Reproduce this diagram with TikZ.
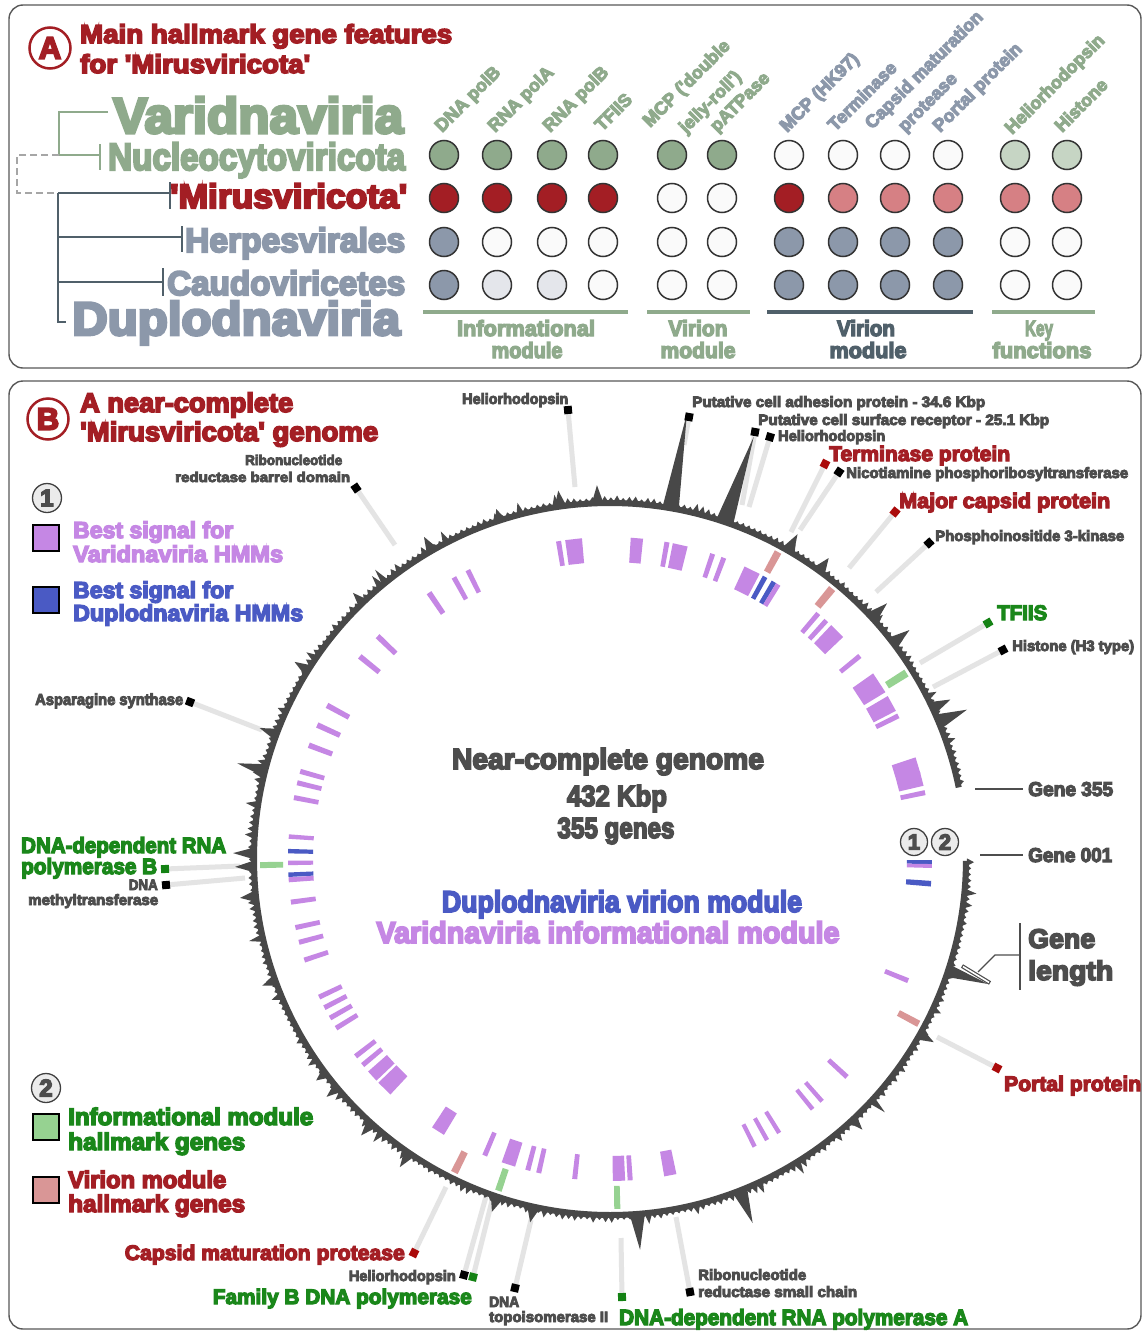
\documentclass[tikz,border=0pt]{standalone}
\usepackage{fontspec}
\setmainfont{Liberation Sans}[BoldFeatures={FakeBold=6}]
\usepackage{graphicx}
\pgfdeclarelayer{bg}
\pgfsetlayers{bg,main}
\newsavebox\ftbox
\newcommand\ft[3]{\sbox\ftbox{\fontsize{#1pt}{#1pt}\selectfont\bfseries #3}\resizebox{#2pt}{\height}{\usebox\ftbox}}
\newcommand\fn[2]{{\fontsize{#1pt}{#1pt}\selectfont\bfseries #2}}
\newcommand\q{\textquotesingle}
\newcommand\gb[5]{\fill[#5] ({#1-#2/2}:#3) -- ({#1+#2/2}:#3) -- ({#1+#2/2}:#4) -- ({#1-#2/2}:#4) -- cycle;}
\definecolor{dred}{RGB}{163,30,36}
\definecolor{sage}{RGB}{143,170,140}
\definecolor{sagel}{RGB}{198,213,196}
\definecolor{slate}{RGB}{140,152,170}
\definecolor{slated}{RGB}{80,96,106}
\definecolor{rose}{RGB}{214,128,132}
\definecolor{wc}{RGB}{250,250,250}
\definecolor{lgc}{RGB}{228,230,235}
\definecolor{tgray}{RGB}{77,77,77}
\definecolor{purp}{RGB}{197,135,228}
\definecolor{blu}{RGB}{74,90,196}
\definecolor{grn}{RGB}{26,135,26}
\definecolor{lgrn}{RGB}{150,210,145}
\definecolor{pnk}{RGB}{217,150,150}
\definecolor{band}{RGB}{72,72,72}
\definecolor{lead}{RGB}{228,228,228}
\definecolor{mred}{RGB}{170,10,10}
\definecolor{mgrn}{RGB}{20,130,20}
\begin{document}
\begin{tikzpicture}[x=1pt,y=-1pt,
  lbl/.style={inner sep=0pt, anchor=base west},
  lble/.style={inner sep=0pt, anchor=base east},
  lblc/.style={inner sep=0pt, anchor=base},
  dotc/.style={circle, draw=black!80, line width=1.5pt, minimum size=29pt, inner sep=0pt},
  leader/.style={draw=lead, line width=5pt},
  mk/.style={rectangle, minimum size=8pt, inner sep=0pt, fill=#1},
  badge/.style={circle, draw=black!75, fill=black!8, line width=1.3pt, minimum size=29pt, inner sep=0pt, text=tgray},
  panel/.style={draw=black!65, line width=1.4pt, rounded corners=14pt},
  letterbadge/.style={circle, draw=dred, fill=white, line width=2.5pt, minimum size=41pt, inner sep=0pt, text=dred},
  sqr/.style={rectangle, draw=black, line width=2.2pt, minimum size=26pt, inner sep=0pt, fill=#1},
  treeV/.style={draw=sage, line width=2.5pt},
  treeD/.style={draw=slated, line width=2.5pt},
  treeX/.style={draw=black!35, line width=2.5pt, dash pattern=on 7pt off 4pt},
  uline/.style={draw=#1, line width=4pt},
  thinl/.style={draw=tgray, line width=1.3pt},
  rot/.style={inner sep=0pt, anchor=base west, rotate=45, text=#1},
]
\useasboundingbox[fill=white] (0,0) rectangle (1143,1333);

% ---------- frames
\draw[panel] (9,5) rectangle (1141,368);
\draw[panel] (9,381) rectangle (1141,1329);

% ================= PANEL A =================
\node[letterbadge] (bA) at (50,48) {\fn{31}{A}};
\node[lbl, text=dred] (tA1) at (80,43) {\ft{26}{372}{Main hallmark gene features}};
\node[lbl, text=dred] (tA2) at (80,73) {\ft{26}{230}{for \q Mirusviricota\q}};

% tree
\draw[treeV] (108,112) -- (59,112) -- (59,155) -- (100,155);
\draw[treeV] (100,144) -- (100,170);
\draw[treeX] (59,155) -- (17,155) -- (17,193) -- (58,193);
\draw[treeD] (58,193) -- (170,193);
\draw[treeD] (170,182) -- (170,209);
\draw[treeD] (58,193) -- (58,322) -- (66,322);
\draw[treeD] (58,237) -- (182,237);
\draw[treeD] (182,226) -- (182,252);
\draw[treeD] (58,282) -- (163,282);
\draw[treeD] (163,268) -- (163,296);

\node[lbl, text=sage] (tVar) at (113,133) {\ft{50}{290}{Varidnaviria}};
\node[lbl, text=sage] (tNuc) at (108,170) {\ft{38}{297}{Nucleocytoviricota}};
\node[lbl, text=dred] (tMir) at (170,208) {\ft{34}{237}{\q Mirusviricota\q}};
\node[lbl, text=slate] (tHer) at (185,252) {\ft{34}{220}{Herpesvirales}};
\node[lbl, text=slate] (tCau) at (167,295) {\ft{34}{238}{Caudoviricetes}};
\node[lbl, text=slate] (tDup) at (72,335) {\ft{47}{328}{Duplodnaviria}};

% rotated column labels
\node[rot=sage] (c1) at (442,133) {\fn{18}{DNA polB}};
\node[rot=sage] (c2) at (495,133) {\fn{18}{RNA polA}};
\node[rot=sage] (c3) at (550,133) {\fn{18}{RNA polB}};
\node[rot=sage] (c4) at (602,132) {\fn{18}{TFIIS}};
\node[rot=sage] (c5a) at (650,128) {\fn{18}{MCP (\q double}};
\node[rot=sage] (c5b) at (686,134) {\fn{18}{jelly-roll\q)}};
\node[rot=sage] (c6) at (717,133) {\fn{18}{pATPase}};
\node[rot=slate] (c7) at (787,133) {\fn{18}{MCP (HK97)}};
\node[rot=slate] (c8) at (835,132) {\fn{18}{Terminase}};
\node[rot=slate] (c9a) at (872,130) {\fn{18}{Capsid maturation}};
\node[rot=slate] (c9b) at (905,133) {\fn{18}{protease}};
\node[rot=slate] (c10) at (940,133) {\fn{18}{Portal protein}};
\node[rot=sage] (c11) at (1012,135) {\fn{18}{Heliorhodopsin}};
\node[rot=sage] (c12) at (1062,133) {\fn{18}{Histone}};

% dots
\foreach \x/\f [count=\c] in {444/sage,497/sage,552/sage,603/sage,672/sage,722/sage,789/wc,843/wc,895/wc,948/wc,1015/sagel,1067/sagel}
  \node[dotc, fill=\f] (ra\c) at (\x,155) {};
\foreach \x/\f [count=\c] in {444/dred,497/dred,552/dred,603/dred,672/wc,722/wc,789/dred,843/rose,895/rose,948/rose,1015/rose,1067/rose}
  \node[dotc, fill=\f] (rb\c) at (\x,198) {};
\foreach \x/\f [count=\c] in {444/slate,497/wc,552/wc,603/wc,672/wc,722/wc,789/slate,843/slate,895/slate,948/slate,1015/wc,1067/wc}
  \node[dotc, fill=\f] (rc\c) at (\x,242) {};
\foreach \x/\f [count=\c] in {444/slate,497/lgc,552/lgc,603/wc,672/wc,722/wc,789/slate,843/slate,895/slate,948/slate,1015/wc,1067/wc}
  \node[dotc, fill=\f] (rd\c) at (\x,285) {};

% module underlines and labels
\draw[uline=sage] (423,312) -- (628,312);
\draw[uline=sage] (647,312) -- (750,312);
\draw[uline=slated] (767,312) -- (973,312);
\draw[uline=sage] (992,312) -- (1095,312);
\node[lblc, text=sage] (m1a) at (526,336) {\ft{22}{138}{Informational}};
\node[lblc, text=sage] (m1b) at (527,358) {\ft{22}{71}{module}};
\node[lblc, text=sage] (m2a) at (698,336) {\ft{22}{59}{Virion}};
\node[lblc, text=sage] (m2b) at (698,358) {\ft{22}{75}{module}};
\node[lblc, text=slated] (m3a) at (866,336) {\ft{22}{58}{Virion}};
\node[lblc, text=slated] (m3b) at (868,358) {\ft{22}{77}{module}};
\node[lblc, text=sage] (m4a) at (1039,336) {\ft{22}{28}{Key}};
\node[lblc, text=sage] (m4b) at (1042,358) {\ft{22}{99}{functions}};

% ================= PANEL B =================
\node[letterbadge] (bB) at (48,419) {\fn{31}{B}};
\node[lbl, text=dred] (tB1) at (80,412) {\ft{27}{213}{A near-complete}};
\node[lbl, text=dred] (tB2) at (80,441) {\ft{27}{298}{\q Mirusviricota\q{} genome}};

% legend 1
\node[badge] (bd1) at (47,498) {\fn{24}{1}};
\node[sqr=purp] (sqP) at (46,538) {};
\node[sqr=blu] (sqB) at (46,600) {};
\begin{pgfonlayer}{bg}
\draw[black!70, line width=1.3pt] (bd1) -- (sqB);
\end{pgfonlayer}
\node[lbl, text=purp] (l1a) at (73,538) {\ft{23}{160}{Best signal for}};
\node[lbl, text=purp] (l1b) at (73,562) {\ft{23}{210}{Varidnaviria HMMs}};
\node[lbl, text=blu] (l1c) at (73,598) {\ft{23}{160}{Best signal for}};
\node[lbl, text=blu] (l1d) at (73,621) {\ft{23}{230}{Duplodnaviria HMMs}};

% legend 2
\node[badge] (bd2) at (46,1088) {\fn{24}{2}};
\node[sqr=lgrn] (sqG) at (46,1127) {};
\node[sqr=pnk] (sqR) at (46,1190) {};
\begin{pgfonlayer}{bg}
\draw[black!70, line width=1.3pt] (bd2) -- (sqR);
\end{pgfonlayer}
\node[lbl, text=grn] (l2a) at (68,1125) {\ft{24}{245}{Informational module}};
\node[lbl, text=grn] (l2b) at (68,1150) {\ft{24}{177}{hallmark genes}};
\node[lbl, text=dred] (l2c) at (68,1188) {\ft{24}{158}{Virion module}};
\node[lbl, text=dred] (l2d) at (68,1212) {\ft{24}{177}{hallmark genes}};

% leader coordinates
\coordinate (E1) at (575,487);   \coordinate (M1) at (568,410);
\coordinate (E2) at (684,445);   \coordinate (M2) at (689,417);
\coordinate (E3) at (742,505);   \coordinate (M3) at (755,432);
\coordinate (E4) at (749,507);   \coordinate (M4) at (770,437);
\coordinate (E5) at (791,532);   \coordinate (M5) at (825,464);
\coordinate (E6) at (800,530);   \coordinate (M6) at (839,472);
\coordinate (E7) at (849,568);   \coordinate (M7) at (895,512);
\coordinate (E8) at (876,592);   \coordinate (M8) at (929,543);
\coordinate (E9) at (920,663);   \coordinate (M9) at (988,623);
\coordinate (E10) at (933,687);  \coordinate (M10) at (1003,650);
\coordinate (E11) at (937,1037); \coordinate (M11) at (997,1068);
\coordinate (E12) at (446,1187); \coordinate (M12) at (414,1253);
\coordinate (E13) at (487,1193); \coordinate (M13) at (464,1275);
\coordinate (E14) at (493,1197); \coordinate (M14) at (473,1277);
\coordinate (E15) at (531,1220); \coordinate (M15) at (515,1288);
\coordinate (E16) at (621,1238); \coordinate (M16) at (622,1297);
\coordinate (E17) at (676,1217); \coordinate (M17) at (690,1292);
\coordinate (E18) at (395,545);  \coordinate (M18) at (356,488);
\coordinate (E19) at (262,730);  \coordinate (M19) at (190,702);
\coordinate (E20) at (240,866);  \coordinate (M20) at (165,869);
\coordinate (E21) at (245,878);  \coordinate (M21) at (166,885);

\foreach \i in {1,...,21} \draw[leader] (E\i) -- (M\i);

% genome ring
\begin{scope}[shift={(610,859)}]
  \pgfmathsetseed{11}
  \foreach \i in {0,...,354}{
    \pgfmathsetmacro\ang{0.5+\i*0.9805}
    \pgfmathsetmacro\hgt{361+14*rnd*rnd*rnd}
    \fill[band] ({\ang-0.6}:357) -- (\ang:\hgt) -- ({\ang+0.6}:357) -- cycle;
  }
  \foreach \ang/\r/\w in {279.8/452/1.3, 288.8/446/1.4, 18.3/398/1.0, 85.6/392/1.2, 68.6/391/1.2,
     337.3/387/1.2, 334.9/376/1.0, 322.6/377/1.0, 317.3/377/1.0, 194.4/385/1.0, 180.9/377/0.9,
     178.8/375/0.9, 174/372/0.9, 200.5/374/0.9, 124.3/373/0.9, 143/368/0.8, 108.5/372/1.0,
     102.4/372/1.0, 29.5/372/0.9, 47/370/0.8, 262/372/0.9, 240/372/0.9, 300/375/1.0, 306/372/1.0,
     140/370/0.8, 132/372/0.9, 160/370/0.8, 212/372/0.9, 226/370/0.8, 252/368/0.8, 268/374/0.9}
    \fill[band] ({\ang-\w}:357) -- (\ang:\r) -- ({\ang+\w}:357) -- cycle;
  \draw[band, line width=6pt] plot[domain=0.3:348.4, samples=300] (\x:356);

  % inner ring bars
  \foreach \ang/\w/\c in {0.55/0.7/blu, 1.25/0.7/purp, 4.4/1.0/blu, 22.2/0.9/purp, 42.6/0.9/purp,
     48.8/0.8/purp, 51.0/0.8/purp, 58.3/0.8/purp, 60.8/0.8/purp, 63.3/0.8/purp, 79.2/2.2/purp,
     86.4/0.9/purp, 88.4/2.2/purp, 96.3/0.9/purp, 102.8/0.9/purp, 104.8/0.9/purp, 108.4/2.5/purp,
     112.9/0.9/purp, 122.3/2.5/purp, 134.5/3.0/purp, 137.6/2.2/purp, 140.2/0.9/purp, 142.2/0.9/purp,
     148.3/0.9/purp, 150.4/0.9/purp, 152.5/0.9/purp, 154.6/0.9/purp, 161.7/0.9/purp, 165.0/0.9/purp,
     167.7/0.9/purp, 172.3/0.9/purp, 176.3/0.9/purp, 177.2/0.8/blu, 179.3/0.8/purp, 181.4/0.8/blu,
     184.0/0.8/purp, 191.0/0.9/purp, 193.7/0.9/purp, 195.8/0.9/purp, 200.7/1.0/purp, 204.6/1.0/purp,
     208.5/1.0/purp, 219.0/1.0/purp, 223.8/1.0/purp, 235.8/1.0/purp, 241.0/0.9/purp, 243.8/0.9/purp,
     260.8/0.9/purp, 263.5/3.0/purp, 274.8/2.2/purp, 280.2/0.9/purp, 282.6/2.7/purp, 288.6/0.9/purp,
     290.7/0.9/purp, 296.2/3.0/purp, 298.8/0.9/blu, 300.6/0.9/blu, 301.5/0.9/purp, 310.3/0.9/purp,
     312.2/0.9/purp, 314.9/3.0/purp, 320.9/0.9/purp, 326.8/4.0/purp, 331.1/3.0/purp, 333.6/0.9/purp,
     343.1/3.0/purp, 345.6/2.5/purp, 348.1/0.9/purp}
    {\gb{\ang}{\w}{297}{322}{\c}}
  % outer ring bars
  \foreach \ang/\w/\c in {28.1/1.1/pnk, 88.8/1.0/lgrn, 108.6/1.1/lgrn, 116.4/1.2/pnk, 179.0/1.0/lgrn,
     298.7/1.2/pnk, 309.4/1.3/pnk, 327.9/1.3/lgrn}
    {\gb{\ang}{\w}{327}{350}{\c}}
\end{scope}

% markers
\foreach \i/\c in {1/black,2/black,3/black,4/black,5/mred,6/black,7/mred,8/black,9/mgrn,10/black,
   11/mred,12/mred,13/black,14/mgrn,15/black,16/mgrn,17/black,18/black,19/black,20/mgrn,21/black}
  \path (E\i) -- node[pos=1, sloped, mk=\c] (mk\i) {} (M\i);

% gene length pointer
\draw[tgray, line width=4pt] (962,966) -- (990,983);
\draw[white, line width=1.6pt] (963,966.6) -- (989,982.4);
\coordinate (gl1) at (1020,923); \coordinate (gl2) at (1020,990);
\coordinate (gl3) at (1020,955); \coordinate (gl4) at (995,955); \coordinate (gl5) at (978,972);
\draw[thinl] (gl1) -- (gl2);
\draw[thinl] (gl3) -- (gl4) -- (gl5);
\coordinate (g355a) at (975,789); \coordinate (g355b) at (1023,789);
\coordinate (g001a) at (980,855); \coordinate (g001b) at (1023,855);
\draw[thinl] (g355a) -- (g355b);
\draw[thinl] (g001a) -- (g001b);
\node[badge, minimum size=27pt] (bd1b) at (914,842) {\fn{22}{1}};
\node[badge, minimum size=27pt] (bd2b) at (945,842) {\fn{22}{2}};

% labels panel B
\node[lbl, text=tgray] (tRb1) at (245,465) {\ft{14}{97}{Ribonucleotide}};
\node[lbl, text=tgray] (tRb2) at (175,482) {\ft{14}{175}{reductase barrel domain}};
\node[lbl, text=tgray] (tH1) at (462,404) {\ft{15}{106}{Heliorhodopsin}};
\node[lbl, text=tgray] (tPA) at (692,407) {\ft{15}{293}{Putative cell adhesion protein - 34.6 Kbp}};
\node[lbl, text=tgray] (tPS) at (758,425) {\ft{15}{291}{Putative cell surface receptor - 25.1 Kbp}};
\node[lbl, text=tgray] (tH2) at (778,441) {\ft{15}{107}{Heliorhodopsin}};
\node[lbl, text=dred] (tTe) at (829,461) {\ft{21}{181}{Terminase protein}};
\node[lbl, text=tgray] (tNi) at (846,478) {\ft{15}{282}{Nicotiamine phosphoribosyltransferase}};
\node[lbl, text=dred] (tMC) at (899,508) {\ft{21}{211}{Major capsid protein}};
\node[lbl, text=tgray] (tPI) at (935,541) {\ft{15}{189}{Phosphoinositide 3-kinase}};
\node[lbl, text=grn] (tTF) at (997,620) {\ft{21}{50}{TFIIS}};
\node[lbl, text=tgray] (tHi) at (1012,651) {\ft{15}{122}{Histone (H3 type)}};
\node[lbl, text=tgray] (tG355) at (1028,796) {\ft{20}{85}{Gene 355}};
\node[lbl, text=tgray] (tG001) at (1028,862) {\ft{20}{84}{Gene 001}};
\node[lbl, text=tgray] (tGe) at (1028,948) {\ft{27}{67}{Gene}};
\node[lbl, text=tgray] (tLe) at (1028,980) {\ft{27}{85}{length}};
\node[lbl, text=dred] (tPo) at (1004,1091) {\ft{21}{137}{Portal protein}};
\node[lble, text=dred] (tCM) at (405,1260) {\ft{21}{280}{Capsid maturation protease}};
\node[lble, text=tgray] (tHb) at (456,1281) {\ft{15}{107}{Heliorhodopsin}};
\node[lble, text=grn] (tFB) at (472,1304) {\ft{21}{259}{Family B DNA polymerase}};
\node[lbl, text=tgray] (tDN) at (489,1307) {\ft{15}{30}{DNA}};
\node[lbl, text=tgray] (tTo) at (489,1322) {\ft{15}{119}{topoisomerase II}};
\node[lbl, text=grn] (tRA) at (619,1325) {\ft{22}{349}{DNA-dependent RNA polymerase A}};
\node[lbl, text=tgray] (tRs1) at (698,1280) {\ft{15}{108}{Ribonucleotide}};
\node[lbl, text=tgray] (tRs2) at (698,1297) {\ft{15}{159}{reductase small chain}};
\node[lbl, text=tgray] (tAs) at (35,705) {\ft{16}{148}{Asparagine synthase}};
\node[lbl, text=grn] (tRB1) at (21,853) {\ft{22}{205}{DNA-dependent RNA}};
\node[lbl, text=grn] (tRB2) at (21,874) {\ft{22}{136}{polymerase B}};
\node[lble, text=tgray] (tDM1) at (158,890) {\ft{15}{29}{DNA}};
\node[lbl, text=tgray] (tDM2) at (28,905) {\ft{15}{130}{methyltransferase}};

% centre texts
\node[lblc, text=tgray] (cN) at (608,769) {\ft{29}{312}{Near-complete genome}};
\node[lblc, text=tgray] (cK) at (617,806) {\ft{29}{100}{432 Kbp}};
\node[lblc, text=tgray] (cG) at (616,838) {\ft{29}{117}{355 genes}};
\node[lblc, text=blu] (cD) at (622,912) {\ft{30}{360}{Duplodnaviria virion module}};
\node[lblc, text=purp] (cV) at (608,943) {\ft{30}{463}{Varidnaviria informational module}};
\end{tikzpicture}
\end{document}
